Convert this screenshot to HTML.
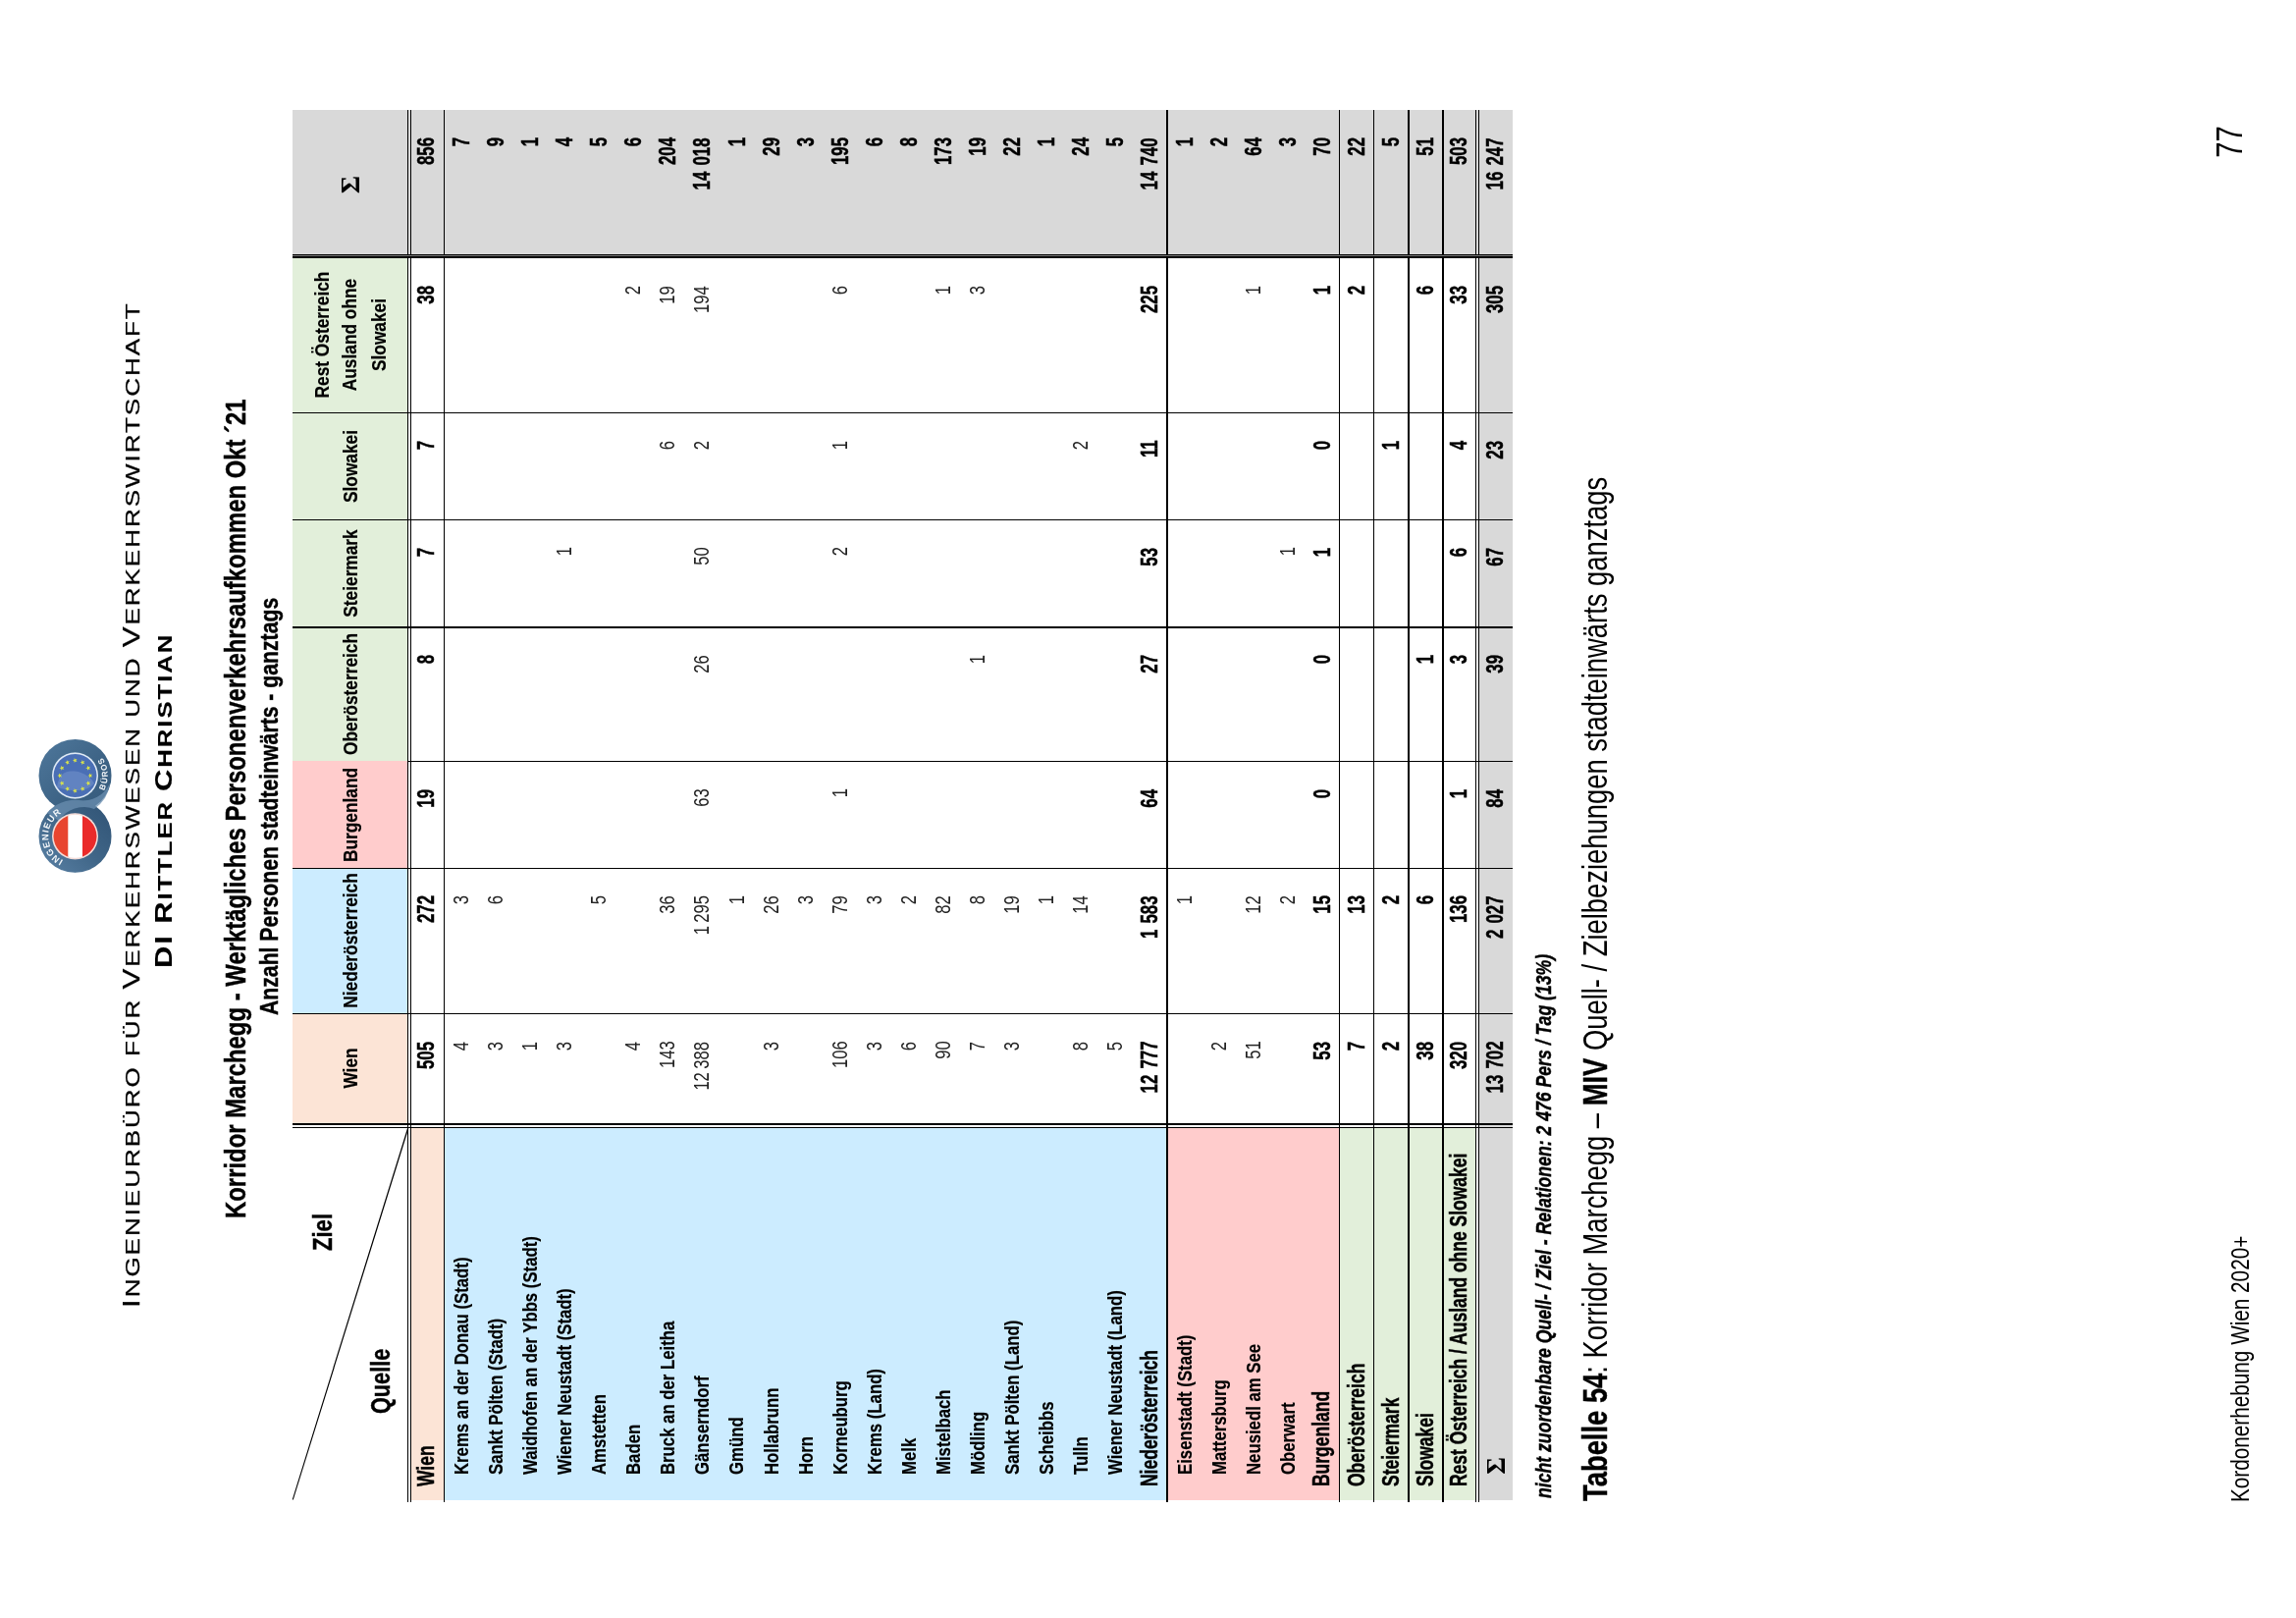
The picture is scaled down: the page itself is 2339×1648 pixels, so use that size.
<!DOCTYPE html>
<html><head><meta charset="utf-8"><title>Kordonerhebung Wien 2020+ – Tabelle 54</title>
<style>
html,body{margin:0;padding:0;background:#fff;}
body{width:2339px;height:1648px;overflow:hidden;position:relative;font-family:"Liberation Sans",sans-serif;}
#pg{position:absolute;left:0;top:0;width:1648px;height:2339px;transform-origin:0 0;transform:translateY(1648px) rotate(-90deg);color:#000;will-change:transform;}
.r{position:absolute;display:block;}
.t{position:absolute;white-space:nowrap;line-height:1;font-family:"Liberation Sans",sans-serif;color:#000;}
.b,b{font-weight:bold;-webkit-text-stroke:0.4px #000;}
.bi{font-weight:bold;font-style:italic;-webkit-text-stroke:0.4px #000;}
.hd{font-weight:bold;-webkit-text-stroke:0.2px #000;}
.lb{font-weight:bold;-webkit-text-stroke:0.2px #000;}
.nb{font-weight:bold;word-spacing:2px;-webkit-text-stroke:0.45px #000;}
.tb{-webkit-text-stroke:0.45px #000;}
.nl{word-spacing:-1.5px;color:#222;}
.sg{font-family:"Liberation Serif",serif;font-weight:bold;}
.hd1{font-size:19.4px;letter-spacing:1.44px;-webkit-text-stroke:0.25px #000;}
.hd1 .C{font-size:1.2em;line-height:0;}
.h2{font-weight:bold;-webkit-text-stroke:0.15px #000;}
</style></head><body>
<div id="pg">
<div class="r" style="left:504.00px;top:297.80px;width:111.60px;height:117.60px;background:#fce4d6"></div>
<div class="r" style="left:615.60px;top:297.80px;width:148.30px;height:117.60px;background:#ccecff"></div>
<div class="r" style="left:763.90px;top:297.80px;width:108.80px;height:117.60px;background:#ffcccc"></div>
<div class="r" style="left:872.70px;top:297.80px;width:512.70px;height:117.60px;background:#e2efda"></div>
<div class="r" style="left:1388.70px;top:297.80px;width:147.30px;height:117.60px;background:#d9d9d9"></div>
<div class="r" style="left:1388.70px;top:415.40px;width:147.30px;height:1125.60px;background:#d9d9d9"></div>
<div class="r" style="left:120.30px;top:1506.30px;width:1415.70px;height:34.70px;background:#d9d9d9"></div>
<div class="r" style="left:120.30px;top:418.40px;width:378.40px;height:34.10px;background:#fce4d6"></div>
<div class="r" style="left:120.30px;top:452.50px;width:378.40px;height:736.68px;background:#ccecff"></div>
<div class="r" style="left:120.30px;top:1189.18px;width:378.40px;height:175.40px;background:#ffcccc"></div>
<div class="r" style="left:120.30px;top:1364.58px;width:378.40px;height:138.82px;background:#e2efda"></div>
<div class="r" style="left:118.30px;top:414.75px;width:1417.70px;height:1.30px;background:#000"></div>
<div class="r" style="left:118.30px;top:417.75px;width:1417.70px;height:1.30px;background:#000"></div>
<div class="r" style="left:118.30px;top:451.85px;width:1417.70px;height:1.30px;background:#000"></div>
<div class="r" style="left:118.30px;top:1188.43px;width:1417.70px;height:1.50px;background:#000"></div>
<div class="r" style="left:118.30px;top:1363.93px;width:1417.70px;height:1.30px;background:#000"></div>
<div class="r" style="left:118.30px;top:1399.01px;width:1417.70px;height:1.30px;background:#000"></div>
<div class="r" style="left:118.30px;top:1433.64px;width:1417.70px;height:2.20px;background:#000"></div>
<div class="r" style="left:118.30px;top:1468.72px;width:1417.70px;height:2.20px;background:#000"></div>
<div class="r" style="left:118.30px;top:1502.80px;width:1417.70px;height:1.20px;background:#000"></div>
<div class="r" style="left:118.30px;top:1505.70px;width:1417.70px;height:1.20px;background:#000"></div>
<div class="r" style="left:1227.00px;top:297.80px;width:1.20px;height:1243.20px;background:#000"></div>
<div class="r" style="left:1118.20px;top:297.80px;width:1.20px;height:1243.20px;background:#000"></div>
<div class="r" style="left:1008.05px;top:297.80px;width:2.30px;height:1243.20px;background:#000"></div>
<div class="r" style="left:872.10px;top:415.40px;width:1.20px;height:1125.60px;background:#000"></div>
<div class="r" style="left:763.30px;top:297.80px;width:1.20px;height:1243.20px;background:#000"></div>
<div class="r" style="left:615.00px;top:297.80px;width:1.20px;height:1243.20px;background:#000"></div>
<div class="r" style="left:1385.40px;top:297.80px;width:3.30px;height:1243.20px;background:#000"></div>
<div class="r" style="left:1386.65px;top:297.80px;width:0.80px;height:1243.20px;background:#777"></div>
<div class="r" style="left:501.80px;top:297.80px;width:2.20px;height:1243.20px;background:#000"></div>
<div class="r" style="left:499.10px;top:297.80px;width:1.20px;height:1243.20px;background:#000"></div>
<svg class="r" style="left:118.00px;top:295.80px" width="383.00" height="121.60" viewBox="118.00 295.80 383.00 121.60"><line x1="120.50" y1="298.10" x2="498.70" y2="415.40" stroke="#000" stroke-width="1.2"/></svg>
<span class="t hd" style="top:346.65px;font-size:20.0px;left:559.80px;transform-origin:0 50%;transform:scaleX(0.865) translateX(-50%);">Wien</span>
<span class="t hd" style="top:346.65px;font-size:20.0px;left:689.75px;transform-origin:0 50%;transform:scaleX(0.865) translateX(-50%);">Niederösterreich</span>
<span class="t hd" style="top:346.65px;font-size:20.0px;left:818.30px;transform-origin:0 50%;transform:scaleX(0.865) translateX(-50%);">Burgenland</span>
<span class="t hd" style="top:346.65px;font-size:20.0px;left:940.95px;transform-origin:0 50%;transform:scaleX(0.865) translateX(-50%);">Oberösterreich</span>
<span class="t hd" style="top:346.65px;font-size:20.0px;left:1064.00px;transform-origin:0 50%;transform:scaleX(0.865) translateX(-50%);">Steiermark</span>
<span class="t hd" style="top:346.65px;font-size:20.0px;left:1173.20px;transform-origin:0 50%;transform:scaleX(0.865) translateX(-50%);">Slowakei</span>
<span class="t hd" style="top:317.55px;font-size:20.0px;left:1306.50px;transform-origin:0 50%;transform:scaleX(0.865) translateX(-50%);">Rest Österreich</span>
<span class="t hd" style="top:346.35px;font-size:20.0px;left:1306.50px;transform-origin:0 50%;transform:scaleX(0.865) translateX(-50%);">Ausland ohne</span>
<span class="t hd" style="top:376.15px;font-size:20.0px;left:1306.50px;transform-origin:0 50%;transform:scaleX(0.865) translateX(-50%);">Slowakei</span>
<span class="t sg" style="top:343.23px;font-size:28px;left:1459.90px;transform-origin:0 50%;transform:scaleX(1.0) translateX(-50%);">Σ</span>
<span class="t b" style="top:315.03px;font-size:27.6px;left:373.60px;transform-origin:0 50%;transform:scaleX(0.8);">Ziel</span>
<span class="t b" style="top:373.93px;font-size:27.6px;left:207.60px;transform-origin:0 50%;transform:scaleX(0.785);">Quelle</span>
<span class="t b tb" style="top:423.29px;font-size:23.0px;left:133.90px;transform-origin:0 50%;transform:scaleX(0.76);">Wien</span>
<span class="t nb" style="top:422.89px;font-size:23.4px;right:1060.70px;transform-origin:100% 50%;transform:scaleX(0.72);">505</span>
<span class="t nb" style="top:422.89px;font-size:23.4px;right:912.40px;transform-origin:100% 50%;transform:scaleX(0.72);">272</span>
<span class="t nb" style="top:422.89px;font-size:23.4px;right:803.60px;transform-origin:100% 50%;transform:scaleX(0.72);">19</span>
<span class="t nb" style="top:422.89px;font-size:23.4px;right:667.10px;transform-origin:100% 50%;transform:scaleX(0.72);">8</span>
<span class="t nb" style="top:422.89px;font-size:23.4px;right:557.50px;transform-origin:100% 50%;transform:scaleX(0.72);">7</span>
<span class="t nb" style="top:422.89px;font-size:23.4px;right:448.70px;transform-origin:100% 50%;transform:scaleX(0.72);">7</span>
<span class="t nb" style="top:422.89px;font-size:23.4px;right:290.90px;transform-origin:100% 50%;transform:scaleX(0.72);">38</span>
<span class="t nb" style="top:422.89px;font-size:23.4px;right:140.30px;transform-origin:100% 50%;transform:scaleX(0.72);">856</span>
<span class="t lb" style="top:460.84px;font-size:19.9px;left:146.30px;transform-origin:0 50%;transform:scaleX(0.842);">Krems an der Donau (Stadt)</span>
<span class="t nl" style="top:459.89px;font-size:21.4px;right:1060.70px;transform-origin:100% 50%;transform:scaleX(0.775);">4</span>
<span class="t nl" style="top:459.89px;font-size:21.4px;right:912.40px;transform-origin:100% 50%;transform:scaleX(0.775);">3</span>
<span class="t nb" style="top:458.88px;font-size:23.4px;right:140.30px;transform-origin:100% 50%;transform:scaleX(0.72);">7</span>
<span class="t lb" style="top:495.92px;font-size:19.9px;left:146.30px;transform-origin:0 50%;transform:scaleX(0.842);">Sankt Pölten (Stadt)</span>
<span class="t nl" style="top:494.97px;font-size:21.4px;right:1060.70px;transform-origin:100% 50%;transform:scaleX(0.775);">3</span>
<span class="t nl" style="top:494.97px;font-size:21.4px;right:912.40px;transform-origin:100% 50%;transform:scaleX(0.775);">6</span>
<span class="t nb" style="top:493.96px;font-size:23.4px;right:140.30px;transform-origin:100% 50%;transform:scaleX(0.72);">9</span>
<span class="t lb" style="top:531.00px;font-size:19.9px;left:146.30px;transform-origin:0 50%;transform:scaleX(0.842);">Waidhofen an der Ybbs (Stadt)</span>
<span class="t nl" style="top:530.05px;font-size:21.4px;right:1060.70px;transform-origin:100% 50%;transform:scaleX(0.775);">1</span>
<span class="t nb" style="top:529.04px;font-size:23.4px;right:140.30px;transform-origin:100% 50%;transform:scaleX(0.72);">1</span>
<span class="t lb" style="top:566.08px;font-size:19.9px;left:146.30px;transform-origin:0 50%;transform:scaleX(0.842);">Wiener Neustadt (Stadt)</span>
<span class="t nl" style="top:565.13px;font-size:21.4px;right:1060.70px;transform-origin:100% 50%;transform:scaleX(0.775);">3</span>
<span class="t nl" style="top:565.13px;font-size:21.4px;right:557.50px;transform-origin:100% 50%;transform:scaleX(0.775);">1</span>
<span class="t nb" style="top:564.12px;font-size:23.4px;right:140.30px;transform-origin:100% 50%;transform:scaleX(0.72);">4</span>
<span class="t lb" style="top:601.16px;font-size:19.9px;left:146.30px;transform-origin:0 50%;transform:scaleX(0.842);">Amstetten</span>
<span class="t nl" style="top:600.21px;font-size:21.4px;right:912.40px;transform-origin:100% 50%;transform:scaleX(0.775);">5</span>
<span class="t nb" style="top:599.20px;font-size:23.4px;right:140.30px;transform-origin:100% 50%;transform:scaleX(0.72);">5</span>
<span class="t lb" style="top:636.24px;font-size:19.9px;left:146.30px;transform-origin:0 50%;transform:scaleX(0.842);">Baden</span>
<span class="t nl" style="top:635.29px;font-size:21.4px;right:1060.70px;transform-origin:100% 50%;transform:scaleX(0.775);">4</span>
<span class="t nl" style="top:635.29px;font-size:21.4px;right:290.90px;transform-origin:100% 50%;transform:scaleX(0.775);">2</span>
<span class="t nb" style="top:634.28px;font-size:23.4px;right:140.30px;transform-origin:100% 50%;transform:scaleX(0.72);">6</span>
<span class="t lb" style="top:671.32px;font-size:19.9px;left:146.30px;transform-origin:0 50%;transform:scaleX(0.842);">Bruck an der Leitha</span>
<span class="t nl" style="top:670.37px;font-size:21.4px;right:1060.70px;transform-origin:100% 50%;transform:scaleX(0.775);">143</span>
<span class="t nl" style="top:670.37px;font-size:21.4px;right:912.40px;transform-origin:100% 50%;transform:scaleX(0.775);">36</span>
<span class="t nl" style="top:670.37px;font-size:21.4px;right:448.70px;transform-origin:100% 50%;transform:scaleX(0.775);">6</span>
<span class="t nl" style="top:670.37px;font-size:21.4px;right:290.90px;transform-origin:100% 50%;transform:scaleX(0.775);">19</span>
<span class="t nb" style="top:669.36px;font-size:23.4px;right:140.30px;transform-origin:100% 50%;transform:scaleX(0.72);">204</span>
<span class="t lb" style="top:706.40px;font-size:19.9px;left:146.30px;transform-origin:0 50%;transform:scaleX(0.842);">Gänserndorf</span>
<span class="t nl" style="top:705.45px;font-size:21.4px;right:1060.70px;transform-origin:100% 50%;transform:scaleX(0.775);">12 388</span>
<span class="t nl" style="top:705.45px;font-size:21.4px;right:912.40px;transform-origin:100% 50%;transform:scaleX(0.775);">1 295</span>
<span class="t nl" style="top:705.45px;font-size:21.4px;right:803.60px;transform-origin:100% 50%;transform:scaleX(0.775);">63</span>
<span class="t nl" style="top:705.45px;font-size:21.4px;right:667.10px;transform-origin:100% 50%;transform:scaleX(0.775);">26</span>
<span class="t nl" style="top:705.45px;font-size:21.4px;right:557.50px;transform-origin:100% 50%;transform:scaleX(0.775);">50</span>
<span class="t nl" style="top:705.45px;font-size:21.4px;right:448.70px;transform-origin:100% 50%;transform:scaleX(0.775);">2</span>
<span class="t nl" style="top:705.45px;font-size:21.4px;right:290.90px;transform-origin:100% 50%;transform:scaleX(0.775);">194</span>
<span class="t nb" style="top:704.44px;font-size:23.4px;right:140.30px;transform-origin:100% 50%;transform:scaleX(0.72);">14 018</span>
<span class="t lb" style="top:741.48px;font-size:19.9px;left:146.30px;transform-origin:0 50%;transform:scaleX(0.842);">Gmünd</span>
<span class="t nl" style="top:740.53px;font-size:21.4px;right:912.40px;transform-origin:100% 50%;transform:scaleX(0.775);">1</span>
<span class="t nb" style="top:739.52px;font-size:23.4px;right:140.30px;transform-origin:100% 50%;transform:scaleX(0.72);">1</span>
<span class="t lb" style="top:776.56px;font-size:19.9px;left:146.30px;transform-origin:0 50%;transform:scaleX(0.842);">Hollabrunn</span>
<span class="t nl" style="top:775.61px;font-size:21.4px;right:1060.70px;transform-origin:100% 50%;transform:scaleX(0.775);">3</span>
<span class="t nl" style="top:775.61px;font-size:21.4px;right:912.40px;transform-origin:100% 50%;transform:scaleX(0.775);">26</span>
<span class="t nb" style="top:774.60px;font-size:23.4px;right:140.30px;transform-origin:100% 50%;transform:scaleX(0.72);">29</span>
<span class="t lb" style="top:811.64px;font-size:19.9px;left:146.30px;transform-origin:0 50%;transform:scaleX(0.842);">Horn</span>
<span class="t nl" style="top:810.69px;font-size:21.4px;right:912.40px;transform-origin:100% 50%;transform:scaleX(0.775);">3</span>
<span class="t nb" style="top:809.68px;font-size:23.4px;right:140.30px;transform-origin:100% 50%;transform:scaleX(0.72);">3</span>
<span class="t lb" style="top:846.72px;font-size:19.9px;left:146.30px;transform-origin:0 50%;transform:scaleX(0.842);">Korneuburg</span>
<span class="t nl" style="top:845.77px;font-size:21.4px;right:1060.70px;transform-origin:100% 50%;transform:scaleX(0.775);">106</span>
<span class="t nl" style="top:845.77px;font-size:21.4px;right:912.40px;transform-origin:100% 50%;transform:scaleX(0.775);">79</span>
<span class="t nl" style="top:845.77px;font-size:21.4px;right:803.60px;transform-origin:100% 50%;transform:scaleX(0.775);">1</span>
<span class="t nl" style="top:845.77px;font-size:21.4px;right:557.50px;transform-origin:100% 50%;transform:scaleX(0.775);">2</span>
<span class="t nl" style="top:845.77px;font-size:21.4px;right:448.70px;transform-origin:100% 50%;transform:scaleX(0.775);">1</span>
<span class="t nl" style="top:845.77px;font-size:21.4px;right:290.90px;transform-origin:100% 50%;transform:scaleX(0.775);">6</span>
<span class="t nb" style="top:844.76px;font-size:23.4px;right:140.30px;transform-origin:100% 50%;transform:scaleX(0.72);">195</span>
<span class="t lb" style="top:881.80px;font-size:19.9px;left:146.30px;transform-origin:0 50%;transform:scaleX(0.842);">Krems (Land)</span>
<span class="t nl" style="top:880.85px;font-size:21.4px;right:1060.70px;transform-origin:100% 50%;transform:scaleX(0.775);">3</span>
<span class="t nl" style="top:880.85px;font-size:21.4px;right:912.40px;transform-origin:100% 50%;transform:scaleX(0.775);">3</span>
<span class="t nb" style="top:879.84px;font-size:23.4px;right:140.30px;transform-origin:100% 50%;transform:scaleX(0.72);">6</span>
<span class="t lb" style="top:916.88px;font-size:19.9px;left:146.30px;transform-origin:0 50%;transform:scaleX(0.842);">Melk</span>
<span class="t nl" style="top:915.93px;font-size:21.4px;right:1060.70px;transform-origin:100% 50%;transform:scaleX(0.775);">6</span>
<span class="t nl" style="top:915.93px;font-size:21.4px;right:912.40px;transform-origin:100% 50%;transform:scaleX(0.775);">2</span>
<span class="t nb" style="top:914.92px;font-size:23.4px;right:140.30px;transform-origin:100% 50%;transform:scaleX(0.72);">8</span>
<span class="t lb" style="top:951.96px;font-size:19.9px;left:146.30px;transform-origin:0 50%;transform:scaleX(0.842);">Mistelbach</span>
<span class="t nl" style="top:951.01px;font-size:21.4px;right:1060.70px;transform-origin:100% 50%;transform:scaleX(0.775);">90</span>
<span class="t nl" style="top:951.01px;font-size:21.4px;right:912.40px;transform-origin:100% 50%;transform:scaleX(0.775);">82</span>
<span class="t nl" style="top:951.01px;font-size:21.4px;right:290.90px;transform-origin:100% 50%;transform:scaleX(0.775);">1</span>
<span class="t nb" style="top:950.00px;font-size:23.4px;right:140.30px;transform-origin:100% 50%;transform:scaleX(0.72);">173</span>
<span class="t lb" style="top:987.04px;font-size:19.9px;left:146.30px;transform-origin:0 50%;transform:scaleX(0.842);">Mödling</span>
<span class="t nl" style="top:986.09px;font-size:21.4px;right:1060.70px;transform-origin:100% 50%;transform:scaleX(0.775);">7</span>
<span class="t nl" style="top:986.09px;font-size:21.4px;right:912.40px;transform-origin:100% 50%;transform:scaleX(0.775);">8</span>
<span class="t nl" style="top:986.09px;font-size:21.4px;right:667.10px;transform-origin:100% 50%;transform:scaleX(0.775);">1</span>
<span class="t nl" style="top:986.09px;font-size:21.4px;right:290.90px;transform-origin:100% 50%;transform:scaleX(0.775);">3</span>
<span class="t nb" style="top:985.08px;font-size:23.4px;right:140.30px;transform-origin:100% 50%;transform:scaleX(0.72);">19</span>
<span class="t lb" style="top:1022.12px;font-size:19.9px;left:146.30px;transform-origin:0 50%;transform:scaleX(0.842);">Sankt Pölten (Land)</span>
<span class="t nl" style="top:1021.17px;font-size:21.4px;right:1060.70px;transform-origin:100% 50%;transform:scaleX(0.775);">3</span>
<span class="t nl" style="top:1021.17px;font-size:21.4px;right:912.40px;transform-origin:100% 50%;transform:scaleX(0.775);">19</span>
<span class="t nb" style="top:1020.16px;font-size:23.4px;right:140.30px;transform-origin:100% 50%;transform:scaleX(0.72);">22</span>
<span class="t lb" style="top:1057.20px;font-size:19.9px;left:146.30px;transform-origin:0 50%;transform:scaleX(0.842);">Scheibbs</span>
<span class="t nl" style="top:1056.25px;font-size:21.4px;right:912.40px;transform-origin:100% 50%;transform:scaleX(0.775);">1</span>
<span class="t nb" style="top:1055.24px;font-size:23.4px;right:140.30px;transform-origin:100% 50%;transform:scaleX(0.72);">1</span>
<span class="t lb" style="top:1092.28px;font-size:19.9px;left:146.30px;transform-origin:0 50%;transform:scaleX(0.842);">Tulln</span>
<span class="t nl" style="top:1091.33px;font-size:21.4px;right:1060.70px;transform-origin:100% 50%;transform:scaleX(0.775);">8</span>
<span class="t nl" style="top:1091.33px;font-size:21.4px;right:912.40px;transform-origin:100% 50%;transform:scaleX(0.775);">14</span>
<span class="t nl" style="top:1091.33px;font-size:21.4px;right:448.70px;transform-origin:100% 50%;transform:scaleX(0.775);">2</span>
<span class="t nb" style="top:1090.32px;font-size:23.4px;right:140.30px;transform-origin:100% 50%;transform:scaleX(0.72);">24</span>
<span class="t lb" style="top:1127.36px;font-size:19.9px;left:146.30px;transform-origin:0 50%;transform:scaleX(0.842);">Wiener Neustadt (Land)</span>
<span class="t nl" style="top:1126.41px;font-size:21.4px;right:1060.70px;transform-origin:100% 50%;transform:scaleX(0.775);">5</span>
<span class="t nb" style="top:1125.40px;font-size:23.4px;right:140.30px;transform-origin:100% 50%;transform:scaleX(0.72);">5</span>
<span class="t b tb" style="top:1160.08px;font-size:23.0px;left:133.90px;transform-origin:0 50%;transform:scaleX(0.76);">Niederösterreich</span>
<span class="t nb" style="top:1160.48px;font-size:23.4px;right:1060.70px;transform-origin:100% 50%;transform:scaleX(0.72);">12 777</span>
<span class="t nb" style="top:1160.48px;font-size:23.4px;right:912.40px;transform-origin:100% 50%;transform:scaleX(0.72);">1 583</span>
<span class="t nb" style="top:1160.48px;font-size:23.4px;right:803.60px;transform-origin:100% 50%;transform:scaleX(0.72);">64</span>
<span class="t nb" style="top:1160.48px;font-size:23.4px;right:667.10px;transform-origin:100% 50%;transform:scaleX(0.72);">27</span>
<span class="t nb" style="top:1160.48px;font-size:23.4px;right:557.50px;transform-origin:100% 50%;transform:scaleX(0.72);">53</span>
<span class="t nb" style="top:1160.48px;font-size:23.4px;right:448.70px;transform-origin:100% 50%;transform:scaleX(0.72);">11</span>
<span class="t nb" style="top:1160.48px;font-size:23.4px;right:290.90px;transform-origin:100% 50%;transform:scaleX(0.72);">225</span>
<span class="t nb" style="top:1160.48px;font-size:23.4px;right:140.30px;transform-origin:100% 50%;transform:scaleX(0.72);">14 740</span>
<span class="t lb" style="top:1197.52px;font-size:19.9px;left:146.30px;transform-origin:0 50%;transform:scaleX(0.842);">Eisenstadt (Stadt)</span>
<span class="t nl" style="top:1196.57px;font-size:21.4px;right:912.40px;transform-origin:100% 50%;transform:scaleX(0.775);">1</span>
<span class="t nb" style="top:1195.56px;font-size:23.4px;right:140.30px;transform-origin:100% 50%;transform:scaleX(0.72);">1</span>
<span class="t lb" style="top:1232.60px;font-size:19.9px;left:146.30px;transform-origin:0 50%;transform:scaleX(0.842);">Mattersburg</span>
<span class="t nl" style="top:1231.65px;font-size:21.4px;right:1060.70px;transform-origin:100% 50%;transform:scaleX(0.775);">2</span>
<span class="t nb" style="top:1230.64px;font-size:23.4px;right:140.30px;transform-origin:100% 50%;transform:scaleX(0.72);">2</span>
<span class="t lb" style="top:1267.68px;font-size:19.9px;left:146.30px;transform-origin:0 50%;transform:scaleX(0.842);">Neusiedl am See</span>
<span class="t nl" style="top:1266.73px;font-size:21.4px;right:1060.70px;transform-origin:100% 50%;transform:scaleX(0.775);">51</span>
<span class="t nl" style="top:1266.73px;font-size:21.4px;right:912.40px;transform-origin:100% 50%;transform:scaleX(0.775);">12</span>
<span class="t nl" style="top:1266.73px;font-size:21.4px;right:290.90px;transform-origin:100% 50%;transform:scaleX(0.775);">1</span>
<span class="t nb" style="top:1265.72px;font-size:23.4px;right:140.30px;transform-origin:100% 50%;transform:scaleX(0.72);">64</span>
<span class="t lb" style="top:1302.76px;font-size:19.9px;left:146.30px;transform-origin:0 50%;transform:scaleX(0.842);">Oberwart</span>
<span class="t nl" style="top:1301.81px;font-size:21.4px;right:912.40px;transform-origin:100% 50%;transform:scaleX(0.775);">2</span>
<span class="t nl" style="top:1301.81px;font-size:21.4px;right:557.50px;transform-origin:100% 50%;transform:scaleX(0.775);">1</span>
<span class="t nb" style="top:1300.80px;font-size:23.4px;right:140.30px;transform-origin:100% 50%;transform:scaleX(0.72);">3</span>
<span class="t b tb" style="top:1335.48px;font-size:23.0px;left:133.90px;transform-origin:0 50%;transform:scaleX(0.76);">Burgenland</span>
<span class="t nb" style="top:1335.88px;font-size:23.4px;right:1060.70px;transform-origin:100% 50%;transform:scaleX(0.72);">53</span>
<span class="t nb" style="top:1335.88px;font-size:23.4px;right:912.40px;transform-origin:100% 50%;transform:scaleX(0.72);">15</span>
<span class="t nb" style="top:1335.88px;font-size:23.4px;right:803.60px;transform-origin:100% 50%;transform:scaleX(0.72);">0</span>
<span class="t nb" style="top:1335.88px;font-size:23.4px;right:667.10px;transform-origin:100% 50%;transform:scaleX(0.72);">0</span>
<span class="t nb" style="top:1335.88px;font-size:23.4px;right:557.50px;transform-origin:100% 50%;transform:scaleX(0.72);">1</span>
<span class="t nb" style="top:1335.88px;font-size:23.4px;right:448.70px;transform-origin:100% 50%;transform:scaleX(0.72);">0</span>
<span class="t nb" style="top:1335.88px;font-size:23.4px;right:290.90px;transform-origin:100% 50%;transform:scaleX(0.72);">1</span>
<span class="t nb" style="top:1335.88px;font-size:23.4px;right:140.30px;transform-origin:100% 50%;transform:scaleX(0.72);">70</span>
<span class="t b tb" style="top:1370.56px;font-size:23.0px;left:133.90px;transform-origin:0 50%;transform:scaleX(0.76);">Oberösterreich</span>
<span class="t nb" style="top:1370.96px;font-size:23.4px;right:1060.70px;transform-origin:100% 50%;transform:scaleX(0.72);">7</span>
<span class="t nb" style="top:1370.96px;font-size:23.4px;right:912.40px;transform-origin:100% 50%;transform:scaleX(0.72);">13</span>
<span class="t nb" style="top:1370.96px;font-size:23.4px;right:290.90px;transform-origin:100% 50%;transform:scaleX(0.72);">2</span>
<span class="t nb" style="top:1370.96px;font-size:23.4px;right:140.30px;transform-origin:100% 50%;transform:scaleX(0.72);">22</span>
<span class="t b tb" style="top:1405.64px;font-size:23.0px;left:133.90px;transform-origin:0 50%;transform:scaleX(0.76);">Steiermark</span>
<span class="t nb" style="top:1406.04px;font-size:23.4px;right:1060.70px;transform-origin:100% 50%;transform:scaleX(0.72);">2</span>
<span class="t nb" style="top:1406.04px;font-size:23.4px;right:912.40px;transform-origin:100% 50%;transform:scaleX(0.72);">2</span>
<span class="t nb" style="top:1406.04px;font-size:23.4px;right:448.70px;transform-origin:100% 50%;transform:scaleX(0.72);">1</span>
<span class="t nb" style="top:1406.04px;font-size:23.4px;right:140.30px;transform-origin:100% 50%;transform:scaleX(0.72);">5</span>
<span class="t b tb" style="top:1440.72px;font-size:23.0px;left:133.90px;transform-origin:0 50%;transform:scaleX(0.76);">Slowakei</span>
<span class="t nb" style="top:1441.12px;font-size:23.4px;right:1060.70px;transform-origin:100% 50%;transform:scaleX(0.72);">38</span>
<span class="t nb" style="top:1441.12px;font-size:23.4px;right:912.40px;transform-origin:100% 50%;transform:scaleX(0.72);">6</span>
<span class="t nb" style="top:1441.12px;font-size:23.4px;right:667.10px;transform-origin:100% 50%;transform:scaleX(0.72);">1</span>
<span class="t nb" style="top:1441.12px;font-size:23.4px;right:290.90px;transform-origin:100% 50%;transform:scaleX(0.72);">6</span>
<span class="t nb" style="top:1441.12px;font-size:23.4px;right:140.30px;transform-origin:100% 50%;transform:scaleX(0.72);">51</span>
<span class="t b tb" style="top:1475.05px;font-size:23.0px;left:133.90px;transform-origin:0 50%;transform:scaleX(0.76);">Rest Österreich / Ausland ohne Slowakei</span>
<span class="t nb" style="top:1475.45px;font-size:23.4px;right:1060.70px;transform-origin:100% 50%;transform:scaleX(0.72);">320</span>
<span class="t nb" style="top:1475.45px;font-size:23.4px;right:912.40px;transform-origin:100% 50%;transform:scaleX(0.72);">136</span>
<span class="t nb" style="top:1475.45px;font-size:23.4px;right:803.60px;transform-origin:100% 50%;transform:scaleX(0.72);">1</span>
<span class="t nb" style="top:1475.45px;font-size:23.4px;right:667.10px;transform-origin:100% 50%;transform:scaleX(0.72);">3</span>
<span class="t nb" style="top:1475.45px;font-size:23.4px;right:557.50px;transform-origin:100% 50%;transform:scaleX(0.72);">6</span>
<span class="t nb" style="top:1475.45px;font-size:23.4px;right:448.70px;transform-origin:100% 50%;transform:scaleX(0.72);">4</span>
<span class="t nb" style="top:1475.45px;font-size:23.4px;right:290.90px;transform-origin:100% 50%;transform:scaleX(0.72);">33</span>
<span class="t nb" style="top:1475.45px;font-size:23.4px;right:140.30px;transform-origin:100% 50%;transform:scaleX(0.72);">503</span>
<span class="t sg" style="top:1511.18px;font-size:27px;left:146.30px;transform-origin:0 50%;transform:scaleX(1.0);">Σ</span>
<span class="t nb" style="top:1512.49px;font-size:23.4px;right:1060.70px;transform-origin:100% 50%;transform:scaleX(0.72);">13 702</span>
<span class="t nb" style="top:1512.49px;font-size:23.4px;right:912.40px;transform-origin:100% 50%;transform:scaleX(0.72);">2 027</span>
<span class="t nb" style="top:1512.49px;font-size:23.4px;right:803.60px;transform-origin:100% 50%;transform:scaleX(0.72);">84</span>
<span class="t nb" style="top:1512.49px;font-size:23.4px;right:667.10px;transform-origin:100% 50%;transform:scaleX(0.72);">39</span>
<span class="t nb" style="top:1512.49px;font-size:23.4px;right:557.50px;transform-origin:100% 50%;transform:scaleX(0.72);">67</span>
<span class="t nb" style="top:1512.49px;font-size:23.4px;right:448.70px;transform-origin:100% 50%;transform:scaleX(0.72);">23</span>
<span class="t nb" style="top:1512.49px;font-size:23.4px;right:290.90px;transform-origin:100% 50%;transform:scaleX(0.72);">305</span>
<span class="t nb" style="top:1512.49px;font-size:23.4px;right:140.30px;transform-origin:100% 50%;transform:scaleX(0.72);">16 247</span>
<span class="t b" style="top:226.33px;font-size:29.2px;left:406.60px;transform-origin:0 50%;transform:scaleX(0.8185);">Korridor Marchegg - Werktägliches Personenverkehrsaufkommen Okt ´21</span>
<span class="t b" style="top:261.38px;font-size:26.3px;left:613.80px;transform-origin:0 50%;transform:scaleX(0.806);">Anzahl Personen stadteinwärts - ganztags</span>
<span class="t bi" style="top:1562.39px;font-size:22.5px;left:122.20px;transform-origin:0 50%;transform:scaleX(0.784);">nicht zuordenbare Quell- / Ziel - Relationen: 2 476 Pers / Tag (13%)</span>
<span class="t" style="top:1607.86px;left:118.50px;font-size:35.5px;transform-origin:0 50%;transform:scaleX(0.771)"><b>Tabelle 54</b>: Korridor Marchegg – <b>MIV</b> Quell- / Zielbeziehungen stadteinwärts ganztags</span>
<span class="t " style="top:2269.54px;font-size:25.4px;left:117.50px;transform-origin:0 50%;transform:scaleX(0.816);">Kordonerhebung Wien 2020+</span>
<span class="t " style="top:2254.11px;font-size:36.6px;right:128.00px;transform-origin:100% 50%;transform:scaleX(0.8);">77</span>
<span class="t hd1" style="top:126.15px;left:316.40px;transform-origin:0 50%;transform:scaleX(1.344)"><span class="C">I</span>NGENIEURBÜRO FÜR <span class="C">V</span>ERKEHRSWESEN UND <span class="C">V</span>ERKEHRSWIRTSCHAFT</span>
<span class="t hd1 h2" style="top:158.95px;left:662.20px;transform-origin:0 50%;transform:scaleX(1.328)"><span class="C">DI R</span>ITTLER <span class="C">C</span>HRISTIAN</span>
<svg class="r" style="left:750px;top:30px" width="160" height="95" viewBox="750 30 160 95">
<defs>
<linearGradient id="rg" x1="0" y1="0" x2="1" y2="1"><stop offset="0" stop-color="#5b82a6"/><stop offset="0.5" stop-color="#3f6587"/><stop offset="1" stop-color="#2f5274"/></linearGradient>
<linearGradient id="rg2" x1="1" y1="0" x2="0" y2="1"><stop offset="0" stop-color="#4f789c"/><stop offset="0.6" stop-color="#3c6284"/><stop offset="1" stop-color="#34597b"/></linearGradient>
<clipPath id="atc"><circle cx="796.2" cy="76.5" r="22"/></clipPath>
<path id="pa" d="M 768.9 76.5 A 27.3 27.3 0 0 1 823.5 76.5"/>
<path id="pb" d="M 824.8 76.5 A 33.2 33.2 0 0 0 891.2 76.5"/>
</defs>
<circle cx="858" cy="76.5" r="37" fill="url(#rg2)"/>
<circle cx="796.2" cy="76.5" r="37" fill="url(#rg)"/>
<path d="M 820 48 A 37 37 0 0 1 833 80 A 30 30 0 0 0 850 112 A 37 37 0 0 1 824 96 A 30 30 0 0 0 812 60 Z" fill="#6b8fb0" opacity="0.75"/>
<circle cx="858" cy="76.5" r="23.6" fill="#dfeaf5"/>
<circle cx="858" cy="76.5" r="22" fill="#4a6fb5"/>
<path d="M 846 58 Q 866 60 862 80 Q 858 92 850 96 Q 838 86 846 58 Z" fill="#7f9bd0" opacity="0.45"/>
<g fill="#d9e34a"><polygon points="873.50,73.90 874.15,75.61 875.97,75.70 874.55,76.84 875.03,78.60 873.50,77.60 871.97,78.60 872.45,76.84 871.03,75.70 872.85,75.61"/><polygon points="871.42,81.65 872.07,83.36 873.90,83.45 872.47,84.59 872.95,86.35 871.42,85.35 869.90,86.35 870.38,84.59 868.95,83.45 870.78,83.36"/><polygon points="865.75,87.32 866.40,89.03 868.22,89.12 866.80,90.26 867.28,92.03 865.75,91.02 864.22,92.03 864.70,90.26 863.28,89.12 865.10,89.03"/><polygon points="858.00,89.40 858.65,91.11 860.47,91.20 859.05,92.34 859.53,94.10 858.00,93.10 856.47,94.10 856.95,92.34 855.53,91.20 857.35,91.11"/><polygon points="850.25,87.32 850.90,89.03 852.72,89.12 851.30,90.26 851.78,92.03 850.25,91.02 848.72,92.03 849.20,90.26 847.78,89.12 849.60,89.03"/><polygon points="844.58,81.65 845.22,83.36 847.05,83.45 845.62,84.59 846.10,86.35 844.58,85.35 843.05,86.35 843.53,84.59 842.10,83.45 843.93,83.36"/><polygon points="842.50,73.90 843.15,75.61 844.97,75.70 843.55,76.84 844.03,78.60 842.50,77.60 840.97,78.60 841.45,76.84 840.03,75.70 841.85,75.61"/><polygon points="844.58,66.15 845.22,67.86 847.05,67.95 845.62,69.09 846.10,70.85 844.58,69.85 843.05,70.85 843.53,69.09 842.10,67.95 843.93,67.86"/><polygon points="850.25,60.48 850.90,62.19 852.72,62.27 851.30,63.42 851.78,65.18 850.25,64.18 848.72,65.18 849.20,63.42 847.78,62.27 849.60,62.19"/><polygon points="858.00,58.40 858.65,60.11 860.47,60.20 859.05,61.34 859.53,63.10 858.00,62.10 856.47,63.10 856.95,61.34 855.53,60.20 857.35,60.11"/><polygon points="865.75,60.48 866.40,62.19 868.22,62.27 866.80,63.42 867.28,65.18 865.75,64.18 864.22,65.18 864.70,63.42 863.28,62.27 865.10,62.19"/><polygon points="871.42,66.15 872.07,67.86 873.90,67.95 872.47,69.09 872.95,70.85 871.42,69.85 869.90,70.85 870.38,69.09 868.95,67.95 870.78,67.86"/></g>
<circle cx="796.2" cy="76.5" r="23.6" fill="#f3dcd8"/>
<g clip-path="url(#atc)"><rect x="770" y="50" width="55" height="19.5" fill="#e8452f"/><rect x="770" y="69.5" width="55" height="14.5" fill="#ffffff"/><rect x="770" y="84" width="55" height="20" fill="#ea2a2a"/></g>
<text font-family="Liberation Sans, sans-serif" font-weight="bold" font-size="9.2" fill="#f4f7fa" letter-spacing="0.9" text-anchor="middle" transform="rotate(-1.5 796.2 76.5)"><textPath href="#pa" startOffset="50%">INGENIEUR</textPath></text>
<text font-family="Liberation Sans, sans-serif" font-weight="bold" font-size="8.3" fill="#f4f7fa" letter-spacing="1.3" text-anchor="middle" transform="rotate(-4 858 76.5)"><textPath href="#pb" startOffset="50%">BÜROS</textPath></text>
</svg>
</div>
</body></html>
